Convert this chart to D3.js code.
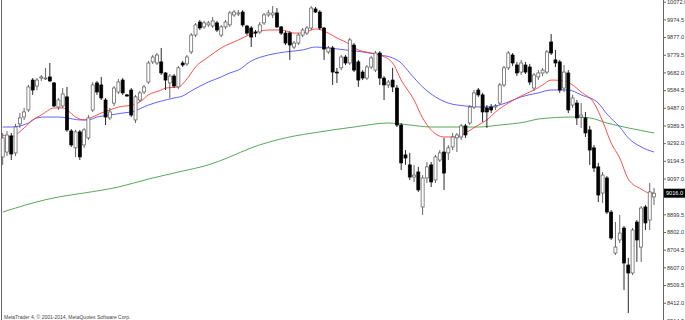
<!DOCTYPE html>
<html>
<head>
<meta charset="utf-8">
<script src="https://cdn.jsdelivr.net/npm/d3@7"></script>
<style>
body { margin: 0; background: #fff; overflow: hidden; }
</style>
</head>
<body>
<div id="chart"></div>
<script>
// daily candles, oldest first
var opens = [9216,9243,9332,9238,9398,9436,9475,9640,9607,9651,9646,9657,9624,9491,9497,9547,9359,9266,9354,9282,
  9321,9475,9624,9613,9530,9431,9513,9574,9640,9558,9585,9420,9530,9574,9629,9740,9734,9740,9679,9624,
  9662,9602,9734,9729,9795,9888,9960,9933,9944,9938,9955,9888,9933,9944,9999,10004,10015,9938,9927,9905,
  9905,9955,9999,9999,10010,9933,9899,9899,9822,9844,9888,9899,9927,10032,10015,9927,9795,9817,9684,9707,
  9767,9734,9833,9740,9684,9651,9712,9695,9789,9651,9613,9640,9596,9392,9227,9172,9105,9133,8940,9100,
  9172,9089,9199,9243,9238,9271,9321,9326,9387,9403,9491,9585,9558,9486,9491,9491,9513,9613,9707,9778,
  9723,9684,9723,9712,9596,9657,9679,9684,9850,9751,9740,9596,9679,9502,9513,9436,9431,9365,9266,9161,
  9017,9100,8912,8686,8758,8824,8620,8576,8857,8719,8940,8868,8995];
var highs = [9348,9359,9348,9398,9458,9486,9613,9651,9651,9668,9707,9734,9629,9541,9596,9602,9370,9365,9365,9376,
  9447,9629,9635,9657,9541,9486,9607,9646,9651,9563,9596,9558,9580,9613,9745,9778,9789,9817,9684,9673,
  9673,9718,9745,9778,9899,9955,9971,9966,9966,9988,9966,9944,9971,10021,10026,10026,10026,9944,9938,9916,
  9960,10010,10026,10048,10037,9938,9910,9910,9855,9899,9927,9938,10048,10043,10026,9933,9828,9828,9707,9778,
  9778,9872,9844,9751,9695,9723,9773,9800,9800,9662,9640,9707,9613,9403,9254,9238,9172,9161,9116,9188,
  9188,9227,9254,9321,9282,9348,9348,9398,9398,9502,9585,9596,9569,9502,9508,9508,9624,9718,9800,9789,
  9740,9751,9740,9729,9679,9695,9707,9806,9894,9806,9751,9723,9695,9558,9530,9513,9464,9387,9282,9183,
  9133,9111,8923,8857,8896,8835,8659,8824,8868,8945,8951,9072,9045];
var lows = [9172,9221,9199,9221,9376,9420,9464,9558,9585,9635,9640,9629,9491,9475,9486,9354,9271,9216,9199,9266,
  9310,9464,9558,9530,9392,9420,9497,9563,9558,9547,9436,9403,9519,9563,9618,9729,9723,9668,9585,9541,
  9596,9591,9712,9718,9784,9877,9916,9922,9933,9927,9905,9877,9922,9933,9988,9993,9933,9888,9822,9877,
  9894,9944,9988,9982,9927,9888,9833,9751,9811,9833,9877,9888,9916,10010,9916,9751,9784,9613,9624,9695,
  9723,9723,9684,9602,9640,9640,9701,9684,9613,9530,9596,9574,9381,9144,9172,9089,9078,9023,8896,9072,
  9050,9072,9188,9034,9199,9254,9243,9310,9321,9392,9480,9547,9409,9376,9458,9475,9502,9602,9695,9718,
  9662,9668,9673,9613,9580,9640,9662,9673,9778,9712,9569,9574,9458,9486,9392,9376,9326,9172,9133,8967,
  8962,8901,8758,8675,8741,8482,8355,8565,8637,8637,8813,8813,8951];
var closes = [9321,9337,9232,9381,9431,9464,9602,9585,9640,9657,9651,9635,9497,9530,9563,9365,9282,9354,9216,9365,
  9431,9613,9574,9541,9436,9464,9596,9629,9569,9552,9447,9547,9569,9602,9734,9767,9778,9679,9640,9662,
  9607,9707,9723,9767,9888,9944,9927,9955,9955,9966,9916,9933,9960,10010,10015,10010,9944,9899,9877,9899,
  9944,9999,10010,10010,9933,9899,9844,9833,9844,9888,9916,9927,10037,10015,9927,9811,9817,9684,9679,9767,
  9734,9861,9695,9640,9651,9712,9762,9789,9651,9613,9629,9602,9392,9183,9210,9105,9116,9034,9100,9161,
  9078,9216,9238,9127,9266,9326,9337,9387,9337,9491,9569,9558,9464,9464,9475,9497,9613,9707,9789,9734,
  9679,9734,9684,9629,9668,9679,9695,9795,9789,9734,9585,9684,9475,9541,9431,9447,9348,9254,9155,9006,
  9116,8912,8769,8719,8796,8631,8576,8813,8758,8934,8852,9023,9016];

// moving averages: [bar index, price]
var maFast = [[0,9337],[2,9326],[3,9337],[5,9376],[7,9420],[9,9447],[12,9486],[14,9486],[15,9475],[17,9436],
  [19,9420],[21,9436],[23,9458],[25,9475],[27,9491],[30,9502],[32,9519],[34,9558],[37,9585],[38,9596],
  [41,9602],[43,9646],[45,9712],[48,9767],[51,9817],[55,9861],[58,9894],[62,9916],[65,9916],[68,9899],
  [70,9899],[73,9922],[76,9899],[78,9872],[80,9850],[83,9806],[86,9789],[88,9778],[91,9734],[93,9640],
  [96,9530],[98,9431],[100,9365],[103,9326],[106,9326],[108,9348],[111,9392],[113,9420],[115,9464],[118,9513],
  [121,9552],[124,9585],[126,9613],[128,9640],[131,9635],[133,9613],[135,9574],[138,9513],[140,9414],[142,9293],
  [144,9210],[146,9094],[149,9039],[151,9017],[152,9017]];
var maMid = [[0,9381],[2,9381],[6,9403],[8,9431],[10,9436],[13,9436],[15,9431],[18,9420],[20,9420],[22,9436],
  [25,9447],[28,9458],[30,9464],[34,9502],[37,9524],[40,9541],[42,9552],[44,9580],[48,9629],[51,9657],
  [53,9679],[55,9695],[58,9745],[62,9778],[66,9795],[70,9806],[73,9822],[76,9817],[80,9806],[84,9795],
  [88,9778],[91,9762],[93,9734],[95,9679],[98,9602],[101,9547],[104,9513],[108,9497],[112,9491],[115,9497],
  [118,9519],[121,9547],[125,9569],[128,9585],[132,9585],[135,9558],[139,9513],[141,9453],[144,9381],[146,9321],
  [149,9271],[152,9243]];
var maSlow = [[0,8912],[3,8934],[7,8962],[13,8995],[19,9017],[27,9050],[34,9094],[42,9138],[48,9172],[53,9216],
  [58,9266],[66,9321],[74,9354],[82,9381],[90,9403],[95,9392],[100,9381],[106,9381],[111,9381],[116,9392],
  [122,9409],[125,9425],[133,9436],[137,9431],[141,9403],[146,9376],[152,9348]];

// the 8997.0 label sits under the price box in the original, so it is left out
var tickLabels = ["10072.0","9974.5","9877.0","9779.5","9682.0","9584.5","9487.0","9389.5","9292.0","9194.5",
  "9097.0","8899.5","8802.0","8704.5","8607.0","8509.5","8412.0","8314.5"];
var lastPrice = "9016.0";
var copyright = "MetaTrader 4, \u00a9 2001-2014, MetaQuotes Software Corp.";

var width = 685, height = 320, axisX = 663;

var svg = d3.select("#chart")
    .append("svg")
        .attr("width", width)
        .attr("height", height)
        .style("font-family", "'Liberation Sans', Arial, sans-serif");

var x = d3.scaleLinear().domain([0, opens.length - 1]).range([2.7, 654]);
var y = d3.scaleLinear().domain([8314.5, 10072]).range([320.4, 1.7]);

var bars = d3.range(opens.length).map(function (i) {
    return {i: i, o: opens[i], h: highs[i], l: lows[i], c: closes[i]};
});

// frame lines
svg.append("line").attr("x1", 1.5).attr("x2", 1.5).attr("y1", 0).attr("y2", height)
    .attr("stroke", "#666").attr("stroke-width", 1);
svg.append("line").attr("x1", axisX + 0.5).attr("x2", axisX + 0.5).attr("y1", 0).attr("y2", height)
    .attr("stroke", "#666").attr("stroke-width", 1);

// moving averages
var line = d3.line()
    .x(function (d) { return x(d[0]); })
    .y(function (d) { return y(d[1]); })
    .curve(d3.curveMonotoneX);

svg.append("path").datum(maSlow).attr("d", line)
    .attr("fill", "none").attr("stroke", "#3a9a3a").attr("stroke-width", 1).attr("stroke-opacity", 0.85);
svg.append("path").datum(maMid).attr("d", line)
    .attr("fill", "none").attr("stroke", "#4848ff").attr("stroke-width", 1).attr("stroke-opacity", 0.85);
svg.append("path").datum(maFast).attr("d", line)
    .attr("fill", "none").attr("stroke", "#ff3030").attr("stroke-width", 1).attr("stroke-opacity", 0.85);

// candles
var candles = svg.append("g").selectAll("g")
    .data(bars)
    .enter()
    .append("g");

candles.append("line")
    .attr("x1", function (d) { return x(d.i); })
    .attr("x2", function (d) { return x(d.i); })
    .attr("y1", function (d) { return y(d.h); })
    .attr("y2", function (d) { return y(d.l); })
    .attr("stroke", function (d) { return d.c >= d.o ? "#555" : "#111"; })
    .attr("stroke-width", 0.9);

candles.append("rect")
    .attr("x", function (d) { return x(d.i) - 1.5; })
    .attr("width", 3)
    .attr("y", function (d) { return y(Math.max(d.o, d.c)); })
    .attr("height", function (d) { return Math.max(0.8, Math.abs(y(d.o) - y(d.c))); })
    .attr("fill", function (d) { return d.c >= d.o ? "#fff" : "#000"; })
    .attr("stroke", function (d) { return d.c >= d.o ? "#555" : "#000"; })
    .attr("stroke-width", 0.7);

// price axis
var axis = svg.append("g")
    .attr("transform", "translate(" + axisX + ",0)")
    .call(d3.axisRight(y)
        .tickValues(tickLabels.map(Number))
        .tickFormat(function (d, i) { return tickLabels[i]; })
        .tickSize(3)
        .tickPadding(1)
        .tickSizeOuter(0));
axis.select(".domain").remove();
axis.selectAll(".tick line").attr("stroke", "#666");
axis.selectAll(".tick text")
    .attr("fill", "#333")
    .style("font-size", "5.6px")
    .style("font-family", "'Liberation Sans', Arial, sans-serif");

// current price marker
var py = y(+lastPrice);
svg.append("rect").attr("x", axisX + 1).attr("y", py - 4.5).attr("width", 22).attr("height", 9).attr("fill", "#000");
svg.append("text").attr("x", axisX + 3).attr("y", py + 2)
    .attr("fill", "#fff").style("font-size", "5.6px").text(lastPrice);

svg.append("text")
    .attr("x", 4).attr("y", 318.5)
    .attr("fill", "#444")
    .style("font-size", "5px")
    .text(copyright);
</script>
</body>
</html>
